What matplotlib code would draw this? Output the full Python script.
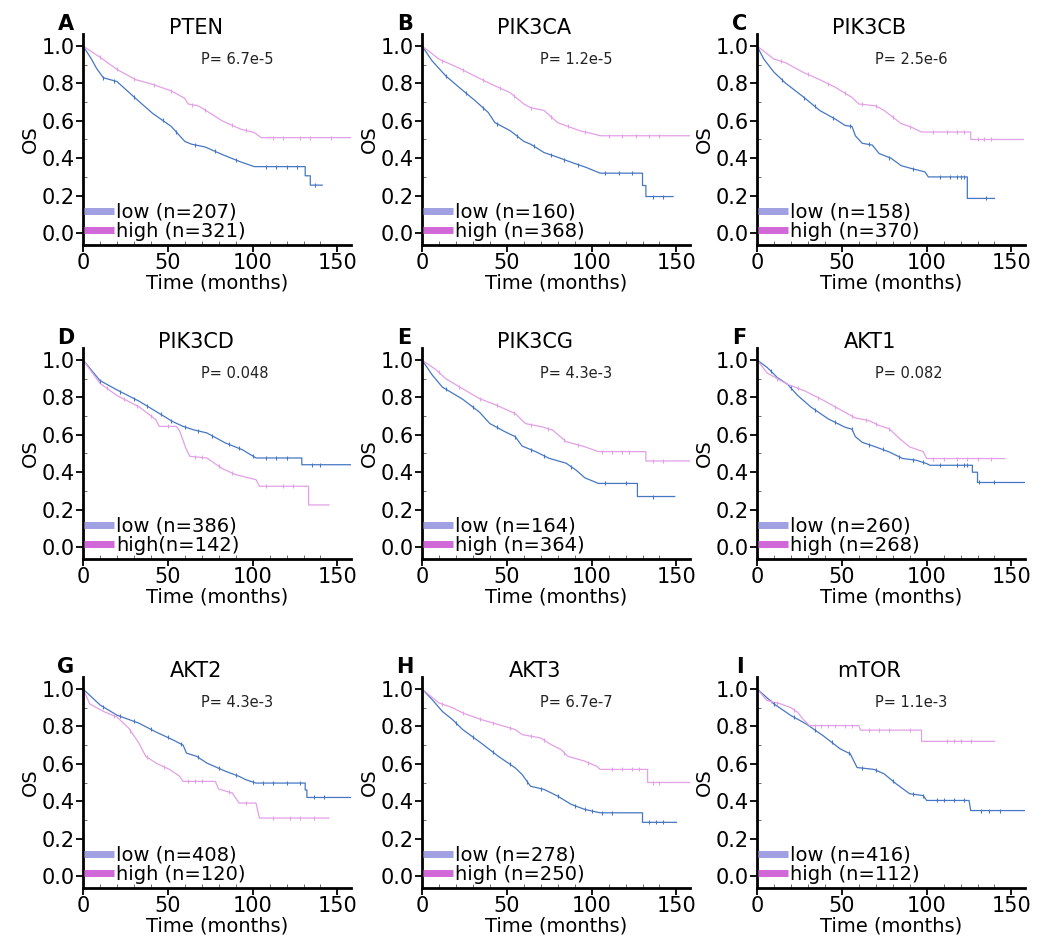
import numpy as np
import matplotlib
matplotlib.use("Agg")
import matplotlib.pyplot as plt
from matplotlib.ticker import MultipleLocator

# panel order A..I
letters = ["A", "B", "C", "D", "E", "F", "G", "H", "I"]
genes = ["PTEN", "PIK3CA", "PIK3CB", "PIK3CD", "PIK3CG", "AKT1", "AKT2", "AKT3", "mTOR"]
pvals = ["P= 6.7e-5", "P= 1.2e-5", "P= 2.5e-6", "P= 0.048", "P= 4.3e-3",
         "P= 0.082", "P= 4.3e-3", "P= 6.7e-7", "P= 1.1e-3"]
n_low = [207, 160, 158, 386, 164, 260, 408, 278, 416]
n_high = [321, 368, 370, 142, 364, 268, 120, 250, 112]

# survival curves (months, OS)
low_t = [
    [0, 5, 8, 12, 20, 31, 41, 52, 60, 64, 72, 82, 93, 101, 131, 131, 134, 134, 141],
    [0, 6, 14, 23, 31, 39, 43, 52, 60, 64, 72, 80, 89, 97, 105, 130, 130, 132, 132, 148],
    [0, 4, 10, 17, 27, 37, 46, 52, 56, 58, 62, 68, 72, 79, 85, 91, 99, 101, 124, 124, 140],
    [0, 10, 20, 33, 43, 53, 59, 65, 73, 84, 94, 102, 129, 129, 158],
    [0, 6, 12, 24, 34, 40, 49, 55, 59, 67, 75, 85, 91, 96, 104, 127, 127, 149],
    [0, 6, 12, 18, 24, 32, 42, 52, 56, 58, 62, 70, 78, 86, 94, 100, 102, 127, 127, 130, 130, 158],
    [0, 10, 20, 33, 43, 53, 59, 61, 67, 73, 84, 92, 96, 102, 131, 131, 132, 132, 158],
    [0, 6, 12, 18, 24, 35, 45, 55, 59, 64, 72, 80, 88, 96, 105, 130, 130, 150],
    [0, 10, 20, 29, 39, 49, 55, 59, 69, 75, 82, 90, 98, 100, 125, 126, 158],
]
low_s = [
    [1, .93, .88, .83, .81, .72, .64, .57, .49, .475, .46, .42, .38, .355, .355, .306, .306, .256, .256],
    [1, .92, .84, .77, .71, .645, .59, .547, .49, .475, .43, .405, .375, .35, .32, .32, .254, .254, .195, .195],
    [1, .93, .86, .80, .73, .655, .61, .575, .57, .52, .48, .47, .425, .40, .36, .345, .327, .30, .30, .185, .185],
    [1, .89, .84, .78, .725, .67, .645, .627, .61, .556, .52, .476, .476, .44, .44],
    [1, .92, .855, .79, .72, .66, .616, .59, .54, .51, .474, .448, .41, .37, .34, .34, .27, .27],
    [1, .96, .906, .87, .81, .747, .685, .64, .63, .59, .56, .535, .508, .473, .464, .446, .437, .437, .40, .40, .345, .345],
    [1, .915, .86, .817, .77, .728, .70, .657, .64, .604, .56, .533, .515, .497, .497, .46, .46, .42, .42],
    [1, .943, .88, .836, .783, .71, .64, .578, .543, .48, .463, .427, .383, .356, .338, .338, .287, .287],
    [1, .92, .858, .813, .75, .68, .653, .58, .57, .546, .493, .44, .43, .404, .404, .35, .35],
]
high_t = [
    [0, 10, 20, 31, 41, 52, 60, 62, 68, 76, 82, 93, 101, 105, 158],
    [0, 10, 21, 31, 41, 52, 60, 64, 72, 80, 93, 101, 105, 158],
    [0, 10, 17, 27, 37, 46, 56, 60, 70, 75, 85, 91, 97, 126, 126, 157],
    [0, 10, 20, 33, 43, 45, 55, 57, 61, 63, 73, 82, 90, 102, 104, 133, 133, 145],
    [0, 8, 14, 24, 34, 44, 55, 61, 71, 77, 85, 96, 104, 132, 132, 158],
    [0, 6, 18, 28, 38, 48, 58, 66, 72, 78, 84, 90, 98, 100, 146],
    [0, 4, 12, 20, 27, 33, 37, 43, 51, 57, 59, 78, 80, 88, 92, 102, 104, 145],
    [0, 10, 18, 24, 35, 45, 55, 59, 70, 76, 82, 86, 96, 103, 105, 133, 133, 158],
    [0, 6, 14, 20, 24, 27, 31, 60, 61, 97, 97, 140],
]
high_s = [
    [1, .94, .875, .82, .795, .76, .72, .69, .68, .635, .60, .555, .537, .51, .51],
    [1, .93, .885, .84, .795, .75, .69, .67, .655, .59, .547, .53, .52, .52],
    [1, .93, .91, .86, .82, .78, .725, .69, .68, .655, .585, .566, .54, .54, .50, .50],
    [1, .875, .81, .75, .68, .645, .645, .62, .52, .485, .476, .42, .387, .36, .325, .325, .225, .225],
    [1, .95, .90, .846, .793, .758, .713, .66, .642, .625, .563, .536, .51, .51, .46, .46],
    [1, .93, .87, .835, .79, .74, .69, .676, .65, .632, .58, .535, .51, .473, .473],
    [1, .92, .88, .85, .79, .71, .64, .604, .57, .533, .506, .506, .465, .444, .39, .39, .31, .31],
    [1, .925, .90, .872, .836, .81, .783, .756, .738, .703, .676, .64, .614, .587, .57, .57, .50, .50],
    [1, .938, .92, .90, .875, .84, .804, .804, .78, .78, .72, .72],
]

# censoring marks (months)
low_cens = [
    [12, 18, 30, 47, 55, 66, 78, 90, 108, 114, 120, 126, 137],
    [14, 26, 36, 44, 56, 66, 76, 84, 92, 108, 116, 124, 136, 142],
    [15, 28, 34, 45, 55, 66, 78, 92, 108, 114, 118, 120, 122, 135],
    [10, 22, 30, 38, 46, 52, 60, 68, 76, 86, 92, 100, 108, 114, 120, 135, 140],
    [14, 30, 44, 55, 64, 72, 88, 108, 120, 136],
    [8, 20, 34, 46, 56, 66, 74, 84, 92, 98, 108, 118, 122, 124, 131, 140],
    [12, 22, 30, 40, 50, 58, 68, 80, 90, 100, 106, 112, 120, 128, 136, 142],
    [20, 30, 42, 52, 62, 70, 80, 90, 96, 100, 106, 112, 134, 138, 142],
    [10, 22, 34, 44, 54, 62, 70, 80, 92, 98, 106, 110, 116, 122, 132, 137, 143],
]
high_cens = [
    [10, 20, 30, 42, 52, 64, 72, 88, 96, 112, 118, 128, 134, 146],
    [12, 24, 36, 46, 54, 64, 76, 86, 96, 110, 118, 126, 134, 140],
    [14, 30, 42, 52, 62, 70, 80, 90, 104, 112, 118, 122, 130, 134, 138],
    [14, 24, 32, 40, 50, 66, 70, 80, 88, 108, 118, 124],
    [10, 22, 34, 44, 54, 64, 74, 84, 92, 106, 112, 118, 122, 136, 142],
    [12, 24, 36, 46, 56, 64, 70, 78, 104, 110, 118, 124, 130, 138],
    [18, 28, 38, 48, 62, 66, 70, 86, 96, 112, 122, 128, 136],
    [12, 24, 34, 42, 52, 64, 72, 84, 98, 112, 118, 124, 128, 136, 140],
    [8, 12, 22, 34, 38, 42, 46, 52, 56, 66, 72, 78, 90, 112, 116, 120, 126],
]

LOW_LINE = "#4677c4"
HIGH_LINE = "#e3a0e6"
LOW_LEG = "#a0a0e2"
HIGH_LEG = "#d068d8"

fig = plt.figure(figsize=(10.49, 9.38), dpi=100)
W, H = 1049, 938
col_left = [83, 422, 757]
row_bottom = [245, 559, 888]
ax_w, ax_h = 268, 211

for i in range(9):
    r, c = divmod(i, 3)
    ax = fig.add_axes([col_left[c] / W, (H - row_bottom[r]) / H, ax_w / W, ax_h / H])

    lt, ls = np.array(low_t[i]), np.array(low_s[i])
    ht, hs = np.array(high_t[i]), np.array(high_s[i])
    ax.plot(lt, ls, color=LOW_LINE, lw=0.9)
    ax.plot(ht, hs, color=HIGH_LINE, lw=0.9)
    lc = np.array(low_cens[i])
    hc = np.array(high_cens[i])
    ax.plot(lc, np.interp(lc, lt, ls), ls="none", marker="|", ms=3.5, mew=0.8, color=LOW_LINE)
    ax.plot(hc, np.interp(hc, ht, hs), ls="none", marker="|", ms=3.5, mew=0.8, color=HIGH_LINE)

    # legend handles
    h1, = ax.plot([], [], color=LOW_LEG, lw=5, solid_capstyle="butt")
    h2, = ax.plot([], [], color=HIGH_LEG, lw=5, solid_capstyle="butt")
    sep = "" if letters[i] == "D" else " "
    ax.legend([h1, h2], [f"low (n={n_low[i]})", f"high{sep}(n={n_high[i]})"],
              loc="lower left", bbox_to_anchor=(0.005, 0.02), frameon=False,
              fontsize=14, handlelength=1.55, handletextpad=0.1,
              labelspacing=0.0, borderpad=0, borderaxespad=0)

    ax.set_xlim(0, 158)
    ax.set_ylim(-0.064, 1.064)
    ax.set_xticks([0, 50, 100, 150])
    ax.set_yticks(np.arange(0, 1.01, 0.2))
    ax.set_yticklabels([f"{v:.1f}" for v in np.arange(0, 1.01, 0.2)])
    ax.xaxis.set_minor_locator(MultipleLocator(10))
    ax.yaxis.set_minor_locator(MultipleLocator(0.1))
    ax.tick_params(axis="both", which="major", labelsize=15, length=5, width=1.3, pad=1)
    ax.tick_params(axis="both", which="minor", direction="in", length=3, width=0.6, color="#555555")
    for side in ("top", "right"):
        ax.spines[side].set_visible(False)
    for side in ("left", "bottom"):
        ax.spines[side].set_linewidth(2)

    ax.set_xlabel("Time (months)", fontsize=14, labelpad=0)
    ax.set_ylabel("OS", fontsize=14, labelpad=1)
    ax.text(0.42, 1.0, genes[i], transform=ax.transAxes, ha="center", va="baseline", fontsize=15)
    ax.text(-0.065, 1.02, letters[i], transform=ax.transAxes, ha="center", va="baseline",
            fontsize=15, fontweight="bold")
    ax.text(0.44, 0.86, pvals[i], transform=ax.transAxes, ha="left", va="baseline", fontsize=10.5,
            color="#222222")

fig.savefig("out.png", dpi=100)
